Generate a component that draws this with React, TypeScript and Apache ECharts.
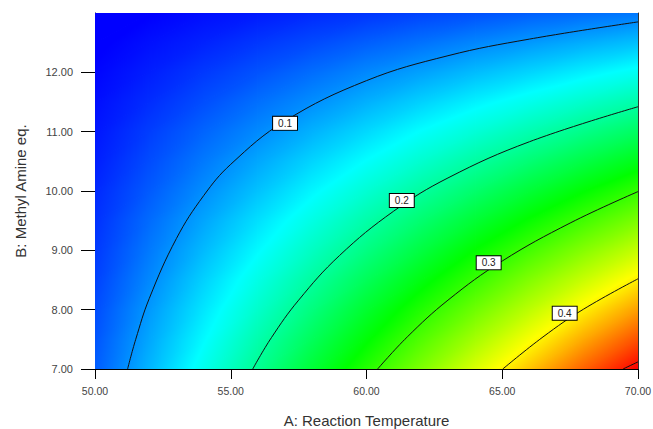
import { useEffect, useRef } from 'react';
import * as echarts from 'echarts';

// Grid of the response (rows: B ascending, cols: A ascending)
const A_VALUES = [50, 52, 54, 56, 58, 60, 62, 64, 66, 68, 70];
const B_VALUES = [7, 7.5, 8, 8.5, 9, 9.5, 10, 10.5, 11, 11.5, 12, 12.5, 13];
const RESPONSE = [
  [0.074, 0.117, 0.161, 0.204, 0.248, 0.291, 0.334, 0.378, 0.421, 0.465, 0.508],
  [0.070, 0.110, 0.150, 0.191, 0.231, 0.271, 0.312, 0.352, 0.392, 0.433, 0.473],
  [0.066, 0.103, 0.140, 0.177, 0.214, 0.252, 0.289, 0.326, 0.363, 0.401, 0.438],
  [0.061, 0.095, 0.130, 0.164, 0.198, 0.232, 0.266, 0.300, 0.335, 0.369, 0.403],
  [0.057, 0.088, 0.119, 0.150, 0.181, 0.212, 0.243, 0.275, 0.306, 0.337, 0.368],
  [0.053, 0.081, 0.109, 0.137, 0.165, 0.193, 0.221, 0.249, 0.277, 0.305, 0.333],
  [0.049, 0.073, 0.098, 0.123, 0.148, 0.173, 0.198, 0.223, 0.248, 0.273, 0.298],
  [0.044, 0.066, 0.088, 0.110, 0.132, 0.153, 0.175, 0.197, 0.219, 0.241, 0.263],
  [0.040, 0.059, 0.078, 0.096, 0.115, 0.134, 0.153, 0.171, 0.190, 0.209, 0.228],
  [0.036, 0.051, 0.067, 0.083, 0.098, 0.114, 0.130, 0.146, 0.161, 0.177, 0.193],
  [0.032, 0.044, 0.057, 0.069, 0.082, 0.095, 0.107, 0.120, 0.132, 0.145, 0.158],
  [0.027, 0.037, 0.046, 0.056, 0.065, 0.075, 0.084, 0.094, 0.103, 0.113, 0.122],
  [0.023, 0.029, 0.036, 0.042, 0.049, 0.055, 0.062, 0.068, 0.075, 0.081, 0.087],
];

// Contour lines: [A, B]
const CONTOUR_01 = [[51.2, 7], [51.5, 7.5], [52, 8.19], [53, 9.2], [54, 9.92], [55, 10.45], [57, 11.18], [60, 11.86], [63, 12.28], [66, 12.56], [70, 12.85]];
const CONTOUR_02 = [[55.81, 7], [56.5, 7.53], [57.5, 8.16], [59, 8.91], [61, 9.66], [63, 10.22], [66, 10.83], [70, 11.42]];
const CONTOUR_03 = [[60.41, 7], [61.5, 7.54], [63, 8.16], [65, 8.82], [67.5, 9.46], [70, 9.99]];
const CONTOUR_04 = [[65.02, 7], [66.5, 7.54], [68, 8.01], [70, 8.52]];
const CONTOUR_05 = [[69.45, 7], [70, 7.12]];

// Contour label anchors: [A, B, text]
const CONTOUR_LABELS = [
  [57.0, 11.14, '0.1'],
  [61.3, 9.84, '0.2'],
  [64.5, 8.79, '0.3'],
  [67.3, 7.94, '0.4'],
];

const X_TICKS = [50, 55, 60, 65, 70];
const Y_TICKS = [7, 8, 9, 10, 11, 12];

// Colour scale (blue -> cyan -> green -> yellow -> red)
const COLOR_LEVELS = [0.03, 0.152, 0.274, 0.395, 0.508];
const COLOR_RAMP = [
  [0, 0, 255],
  [0, 255, 255],
  [0, 255, 0],
  [255, 255, 0],
  [255, 0, 0],
];

function colorOf(v: number): string {
  const n = COLOR_LEVELS.length;
  if (v <= COLOR_LEVELS[0]) return `rgb(${COLOR_RAMP[0].join(',')})`;
  if (v >= COLOR_LEVELS[n - 1]) return `rgb(${COLOR_RAMP[n - 1].join(',')})`;
  for (let k = 0; k < n - 1; k++) {
    const lo = COLOR_LEVELS[k];
    const hi = COLOR_LEVELS[k + 1];
    if (v >= lo && v <= hi) {
      const t = (v - lo) / (hi - lo);
      const c = COLOR_RAMP[k].map((c0, m) => Math.round(c0 + (COLOR_RAMP[k + 1][m] - c0) * t));
      return `rgb(${c.join(',')})`;
    }
  }
  return 'rgb(0,0,255)';
}

function triangle(pts: number[][], vals: number[]) {
  const [p0, p1, p2] = pts;
  const dx1 = p1[0] - p0[0], dy1 = p1[1] - p0[1], dv1 = vals[1] - vals[0];
  const dx2 = p2[0] - p0[0], dy2 = p2[1] - p0[1], dv2 = vals[2] - vals[0];
  const det = dx1 * dy2 - dx2 * dy1;
  let fill: any = colorOf((vals[0] + vals[1] + vals[2]) / 3);
  if (Math.abs(det) > 1e-9) {
    const q = (dv1 * dy2 - dv2 * dy1) / det;
    const r = (dx1 * dv2 - dx2 * dv1) / det;
    const g = Math.sqrt(q * q + r * r);
    if (g > 1e-9) {
      const nx = q / g, ny = r / g;
      const s = pts.map((p) => p[0] * nx + p[1] * ny);
      let kmin = 0, kmax = 0;
      for (let k = 1; k < 3; k++) {
        if (s[k] < s[kmin]) kmin = k;
        if (s[k] > s[kmax]) kmax = k;
      }
      const len = s[kmax] - s[kmin];
      const S = pts[kmin];
      const E = [S[0] + nx * len, S[1] + ny * len];
      const vS = vals[kmin];
      const vE = vals[kmax];
      const stops: { offset: number; color: string }[] = [{ offset: 0, color: colorOf(vS) }];
      COLOR_LEVELS.forEach((lv) => {
        if (lv > vS && lv < vE) stops.push({ offset: (lv - vS) / (vE - vS), color: colorOf(lv) });
      });
      stops.push({ offset: 1, color: colorOf(vE) });
      fill = new echarts.graphic.LinearGradient(S[0], S[1], E[0], E[1], stops, true);
    }
  }
  return {
    type: 'polygon',
    shape: { points: pts },
    style: { fill, stroke: fill, lineWidth: 1.4 },
  };
}

const FONT = "'Liberation Sans', Arial, sans-serif";

export default function App() {
  const ref = useRef<HTMLDivElement>(null);

  useEffect(() => {
    if (!ref.current) return;
    const chart = echarts.init(ref.current, undefined, { renderer: 'svg' });

    const cells: number[][] = [];
    for (let j = 0; j < B_VALUES.length - 1; j++) {
      for (let i = 0; i < A_VALUES.length - 1; i++) {
        cells.push([
          A_VALUES[i], B_VALUES[j], A_VALUES[i + 1], B_VALUES[j + 1],
          RESPONSE[j][i], RESPONSE[j][i + 1], RESPONSE[j + 1][i], RESPONSE[j + 1][i + 1],
        ]);
      }
    }

    const contourSeries = [CONTOUR_01, CONTOUR_02, CONTOUR_03, CONTOUR_04, CONTOUR_05].map((c) => ({
      type: 'line',
      data: c,
      smooth: 0.4,
      showSymbol: false,
      symbol: 'none',
      silent: true,
      z: 3,
      lineStyle: { color: '#111', width: 1 },
    }));

    chart.setOption({
      animation: false,
      grid: { left: 95, right: 15, top: 13, bottom: 60, containLabel: false, outerBoundsMode: 'none' },
      xAxis: {
        type: 'value',
        min: 50,
        max: 70,
        interval: 5,
        name: 'A: Reaction Temperature',
        nameLocation: 'middle',
        nameGap: 44,
        nameTextStyle: { fontSize: 15, lineHeight: 14, color: '#333', fontFamily: FONT },
        axisLine: { show: true, lineStyle: { color: '#000', width: 1 } },
        axisTick: { show: true, length: 10, customValues: X_TICKS, lineStyle: { color: '#000' } },
        axisLabel: {
          customValues: X_TICKS,
          formatter: (v: number) => v.toFixed(2),
          fontSize: 10.5,
          color: '#444',
          margin: 16,
          fontFamily: FONT,
        },
        splitLine: { show: false },
      },
      yAxis: [
        {
          type: 'value',
          min: 7,
          max: 13,
          interval: 1,
          position: 'left',
          name: 'B: Methyl Amine eq.',
          nameLocation: 'middle',
          nameGap: 67,
          nameTextStyle: { fontSize: 15, color: '#333', fontFamily: FONT },
          axisLine: { show: true, lineStyle: { color: '#000', width: 1 } },
          axisTick: { show: true, length: 14, customValues: Y_TICKS, lineStyle: { color: '#000' } },
          axisLabel: {
            customValues: Y_TICKS,
            formatter: (v: number) => v.toFixed(2),
            fontSize: 11,
            color: '#444',
            margin: 22,
            fontFamily: FONT,
          },
          splitLine: { show: false },
        },
        {
          type: 'value',
          min: 7,
          max: 13,
          interval: 1,
          position: 'right',
          axisLine: { show: true, lineStyle: { color: '#333', width: 1 } },
          axisTick: { show: false },
          axisLabel: { show: false },
          splitLine: { show: false },
        },
      ],
      series: [
        {
          type: 'custom',
          clip: true,
          silent: true,
          z: 1,
          encode: { x: [0, 2], y: [1, 3] },
          data: cells,
          renderItem: (_params: any, api: any) => {
            const a0 = api.value(0), b0 = api.value(1), a1 = api.value(2), b1 = api.value(3);
            const v00 = api.value(4), v10 = api.value(5), v01 = api.value(6), v11 = api.value(7);
            const p00 = api.coord([a0, b0]);
            const p10 = api.coord([a1, b0]);
            const p01 = api.coord([a0, b1]);
            const p11 = api.coord([a1, b1]);
            return {
              type: 'group',
              children: [
                triangle([p00, p10, p11], [v00, v10, v11]),
                triangle([p00, p11, p01], [v00, v11, v01]),
              ],
            };
          },
        },
        ...contourSeries,
        {
          type: 'scatter',
          data: CONTOUR_LABELS,
          symbolSize: 0,
          silent: true,
          z: 5,
          itemStyle: { opacity: 1 },
          label: {
            show: true,
            position: 'inside',
            formatter: (p: any) => p.value[2],
            backgroundColor: '#ffffff',
            borderColor: '#000',
            borderWidth: 1,
            padding: [2, 5, 1, 5],
            fontSize: 10,
            color: '#222',
            opacity: 1,
            fontFamily: FONT,
          },
        },
      ],
    });

    return () => chart.dispose();
  }, []);

  return (
    <div
      ref={ref}
      style={{ position: 'fixed', left: 0, top: 0, width: 653, height: 429, background: '#fff' }}
    />
  );
}
